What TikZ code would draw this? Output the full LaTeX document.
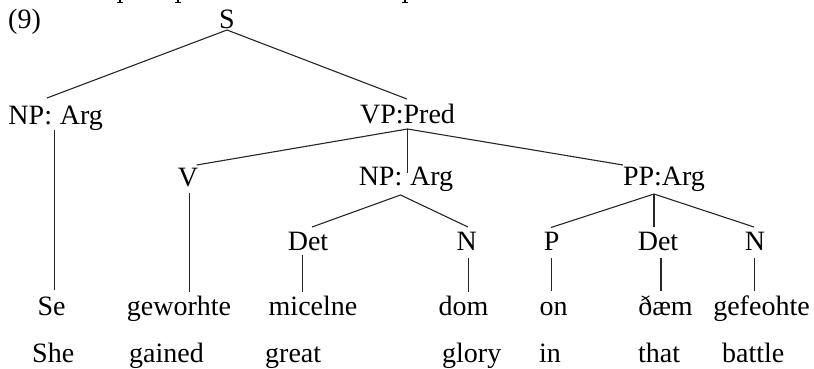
\documentclass[tikz,border=0pt]{standalone}
\usepackage{fontspec}
\setmainfont{Liberation Serif}
\begin{document}
\begin{tikzpicture}[x=1pt,y=-1pt,
  lbl/.style={inner sep=0pt,anchor=base,font=\fontsize{28}{33}\selectfont},
  gloss/.style={lbl,anchor=base west},
  branch/.style={line width=1.1pt,black!85}]
\useasboundingbox (0,0) rectangle (814,368);

% tails of the line of text above the example
\foreach \t in {120,178,405}{
  \fill (\t-0.8,0) rectangle (\t+0.8,2.6);
  \fill (\t-3,1.8) rectangle (\t+3,2.8);
}

% labels of the tree
\node[gloss] (num) at (8,28) {(9)};
\node[lbl] (S) at (227,28) {S};
\node[lbl] (NP1) at (55.7,124) {NP:\hspace{0.28em}Arg};
\node[lbl] (VP) at (407.5,123.5) {VP:Pred};
\node[lbl] (V) at (188,186) {V};
\node[lbl] (NP2) at (406,185) {NP:\hspace{0.28em}Arg};
\node[lbl] (PP) at (664,185) {PP:Arg};
\node[lbl] (Det1) at (308,250) {Det};
\node[lbl] (N1) at (466.7,250) {N};
\node[lbl] (P) at (551.7,250) {P};
\node[lbl] (Det2) at (658,250) {Det};
\node[lbl] (N2) at (755,250) {N};

% Old English words
\node[lbl] (Se) at (51.5,315) {Se};
\node[lbl] (gew) at (179,315) {geworhte};
\node[lbl] (mic) at (313,315) {micelne};
\node[lbl] (dom) at (463.5,315) {dom};
\node[lbl] (on) at (553.5,315) {on};
\node[lbl] (dam) at (665.5,315) {ðæm};
\node[lbl] (gef) at (761.5,315) {gefeohte};

% glosses
\node[gloss] (she) at (32,362) {She};
\node[gloss] (gained) at (129,362) {gained};
\node[gloss] (great) at (265,362) {great};
\node[gloss] (glory) at (442,362) {glory};
\node[gloss] (in) at (539,362) {in};
\node[gloss] (that) at (638,362) {that};
\node[gloss] (battle) at (722,362) {battle};

% attachment points of the branches
\coordinate (S-b) at (227,30);
\coordinate (NP1-t) at (47,98);
\coordinate (VP-t) at (407,99);
\coordinate (NP1-b) at (54.5,130);
\coordinate (Se-t) at (54.5,290);
\coordinate (VP-b) at (407.5,129);
\coordinate (V-t) at (196.7,165);
\coordinate (NP2-t) at (407.5,173);
\coordinate (PP-t) at (623,165);
\coordinate (V-b) at (189.5,193);
\coordinate (gew-t) at (189.5,292);
\coordinate (NP2-b) at (400.5,195);
\coordinate (Det1-t) at (312,227);
\coordinate (N1-t) at (468,227);
\coordinate (Det1-b) at (302.3,255);
\coordinate (mic-t) at (302.3,292);
\coordinate (N1-b) at (468.3,258);
\coordinate (dom-t) at (468.3,292);
\coordinate (PP-b) at (654,194);
\coordinate (P-t) at (551,227.5);
\coordinate (Det2-t) at (654,227);
\coordinate (N2-t) at (754,227);
\coordinate (P-b) at (551.7,258);
\coordinate (on-t) at (551.7,291);
\coordinate (Det2-b) at (661,258);
\coordinate (dam-t) at (661,291);
\coordinate (N2-b) at (754.3,258);
\coordinate (gef-t) at (754.3,291);

% branches
\draw[branch] (NP1-t) -- (S-b) -- (VP-t);
\draw[branch] (NP1-b) -- (Se-t);
\draw[branch] (V-t) -- (VP-b) -- (PP-t);
\draw[branch] (VP-b) -- (NP2-t);
\draw[branch] (V-b) -- (gew-t);
\draw[branch] (Det1-t) -- (NP2-b) -- (N1-t);
\draw[branch] (Det1-b) -- (mic-t);
\draw[branch] (N1-b) -- (dom-t);
\draw[branch] (P-t) -- (PP-b) -- (N2-t);
\draw[branch] (PP-b) -- (Det2-t);
\draw[branch] (P-b) -- (on-t);
\draw[branch] (Det2-b) -- (dam-t);
\draw[branch] (N2-b) -- (gef-t);
\end{tikzpicture}
\end{document}
